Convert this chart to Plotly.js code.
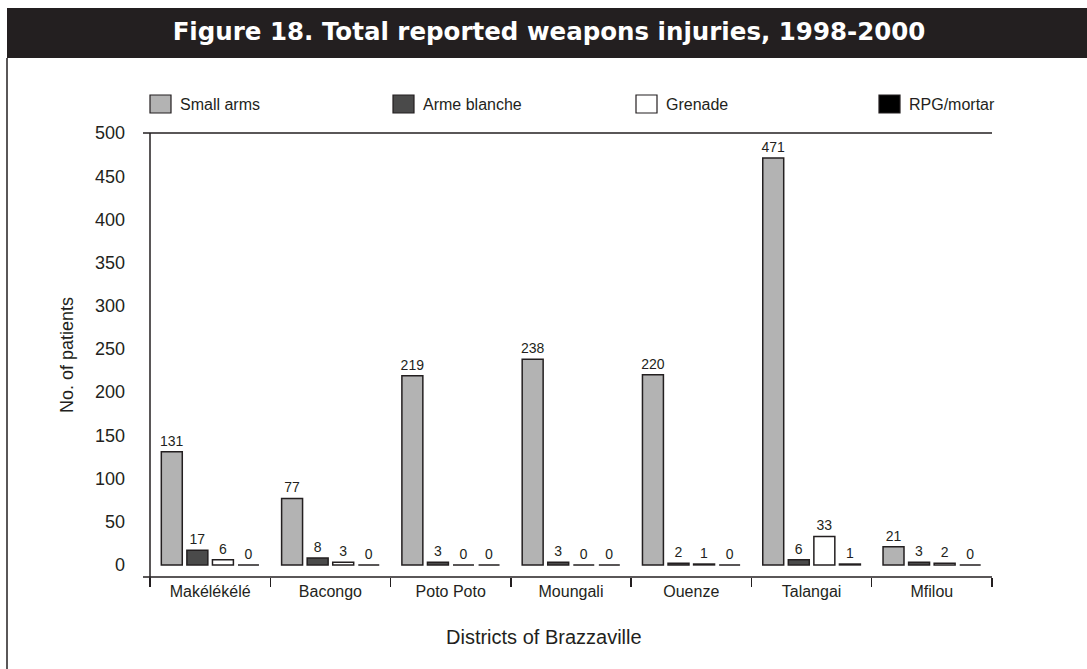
<!DOCTYPE html>
<html>
<head>
<meta charset="utf-8">
<script src="https://cdn.plot.ly/plotly-3.0.1.min.js"></script>
<style>html,body{margin:0;padding:0;background:#fff;}#chart{width:1087px;height:669px;}</style>
</head>
<body>
<div id="chart"></div>
<script>
// ---- Data ----
const categories = ['Makélékélé', 'Bacongo', 'Poto Poto', 'Moungali', 'Ouenze', 'Talangai', 'Mfilou'];
const seriesNames = ['Small arms', 'Arme blanche', 'Grenade', 'RPG/mortar'];
const smallArms   = [131, 77, 219, 238, 220, 471, 21];
const armeBlanche = [17, 8, 3, 3, 2, 6, 3];
const grenade     = [6, 3, 0, 0, 1, 33, 2];
const rpgMortar   = [0, 0, 0, 0, 0, 1, 0];
const yTicks = [0, 50, 100, 150, 200, 250, 300, 350, 400, 450, 500];
const xTitle = 'Districts of Brazzaville';
const yTitle = 'No. of patients';

const seriesValues = [smallArms, armeBlanche, grenade, rpgMortar];
const seriesColors = ['#b3b3b3', '#4a4a4a', '#ffffff', '#000000'];
const ink = '#231f20';
const FONT = 'Liberation Sans, Arial, Helvetica, sans-serif';

// plot area geometry (px)
const W = 1087, H = 669;
const L = 150, R = 95, T = 133, B = 92;
const pw = W - L - R, ph = H - T - B;
const px2x = p => (p - L) / pw;
const py2y = p => (H - B - p) / ph;

const traces = seriesValues.map((vals, i) => ({
  type: 'bar',
  name: seriesNames[i],
  x: categories,
  y: vals,
  text: vals.map(String),
  textposition: 'outside',
  constraintext: 'none',
  textfont: {family: FONT, size: 14, color: ink},
  cliponaxis: false,
  marker: {color: seriesColors[i], line: {color: ink, width: 1.5}},
  hoverinfo: 'x+y+name',
  showlegend: false
}));

const shapes = [
  // title bar
  {type: 'rect', xref: 'paper', yref: 'paper', x0: px2x(7), x1: px2x(1087), y0: py2y(58), y1: py2y(8),
   fillcolor: ink, line: {width: 0}, layer: 'below'},
  // left frame line
  {type: 'line', xref: 'paper', yref: 'paper', x0: px2x(7), x1: px2x(7), y0: py2y(58), y1: py2y(669),
   line: {color: ink, width: 1.5}},
  // top line
  {type: 'line', xref: 'paper', yref: 'paper', x0: px2x(143), x1: 1, y0: 1, y1: 1, line: {color: ink, width: 1.5}},
  // bottom axis line
  {type: 'line', xref: 'paper', yref: 'paper', x0: px2x(143), x1: 1, y0: 0, y1: 0, line: {color: ink, width: 1.5}},
  // y axis line
  {type: 'line', xref: 'paper', yref: 'paper', x0: 0, x1: 0, y0: py2y(586), y1: 1, line: {color: ink, width: 1.5}}
];

const annotations = [
  {xref: 'paper', yref: 'paper', x: px2x(543.5), y: py2y(637), xanchor: 'center', yanchor: 'middle',
   showarrow: false, text: xTitle, font: {family: FONT, size: 20, color: ink}}
];
const legendX = [150, 393, 636, 879];
seriesNames.forEach((nm, i) => {
  shapes.push({type: 'rect', xref: 'paper', yref: 'paper',
    x0: px2x(legendX[i]), x1: px2x(legendX[i] + 21), y0: py2y(113), y1: py2y(95),
    fillcolor: seriesColors[i], line: {color: ink, width: 1.2}});
  annotations.push({xref: 'paper', yref: 'paper', x: px2x(legendX[i] + 28), y: py2y(105),
    xanchor: 'left', yanchor: 'middle', showarrow: false, text: nm,
    font: {family: FONT, size: 16, color: ink}});
});

const layout = {
  width: W, height: H,
  margin: {l: L, r: R, t: T, b: B},
  paper_bgcolor: '#ffffff', plot_bgcolor: '#ffffff',
  title: {text: '<b>Figure 18. Total reported weapons injuries, 1998-2000</b>',
    font: {family: 'DejaVu Sans, Liberation Sans, Arial, sans-serif', size: 24.5, color: '#ffffff'},
    x: 549 / W, xanchor: 'center', xref: 'container',
    y: 1 - 31 / H, yanchor: 'middle', yref: 'container'},
  barmode: 'group',
  bargap: 0.15,
  bargroupgap: 0.18,
  showlegend: false,
  xaxis: {
    type: 'category',
    showline: false, showgrid: false, zeroline: false,
    ticks: 'outside', tickson: 'boundaries', ticklen: 9, tickwidth: 1.5, tickcolor: ink,
    ticklabelstandoff: 3,
    tickfont: {family: FONT, size: 16, color: ink},
    fixedrange: true
  },
  yaxis: {
    range: [-14, 500],
    tickvals: yTicks,
    ticktext: yTicks.map(String),
    showline: false, showgrid: false, zeroline: false,
    ticks: '',
    ticklabelstandoff: 24,
    tickfont: {family: FONT, size: 18, color: ink},
    title: {text: yTitle, font: {family: FONT, size: 18, color: ink}, standoff: 16},
    fixedrange: true
  },
  shapes: shapes,
  annotations: annotations
};

Plotly.newPlot('chart', traces, layout, {displayModeBar: false, staticPlot: true});
</script>
</body>
</html>
